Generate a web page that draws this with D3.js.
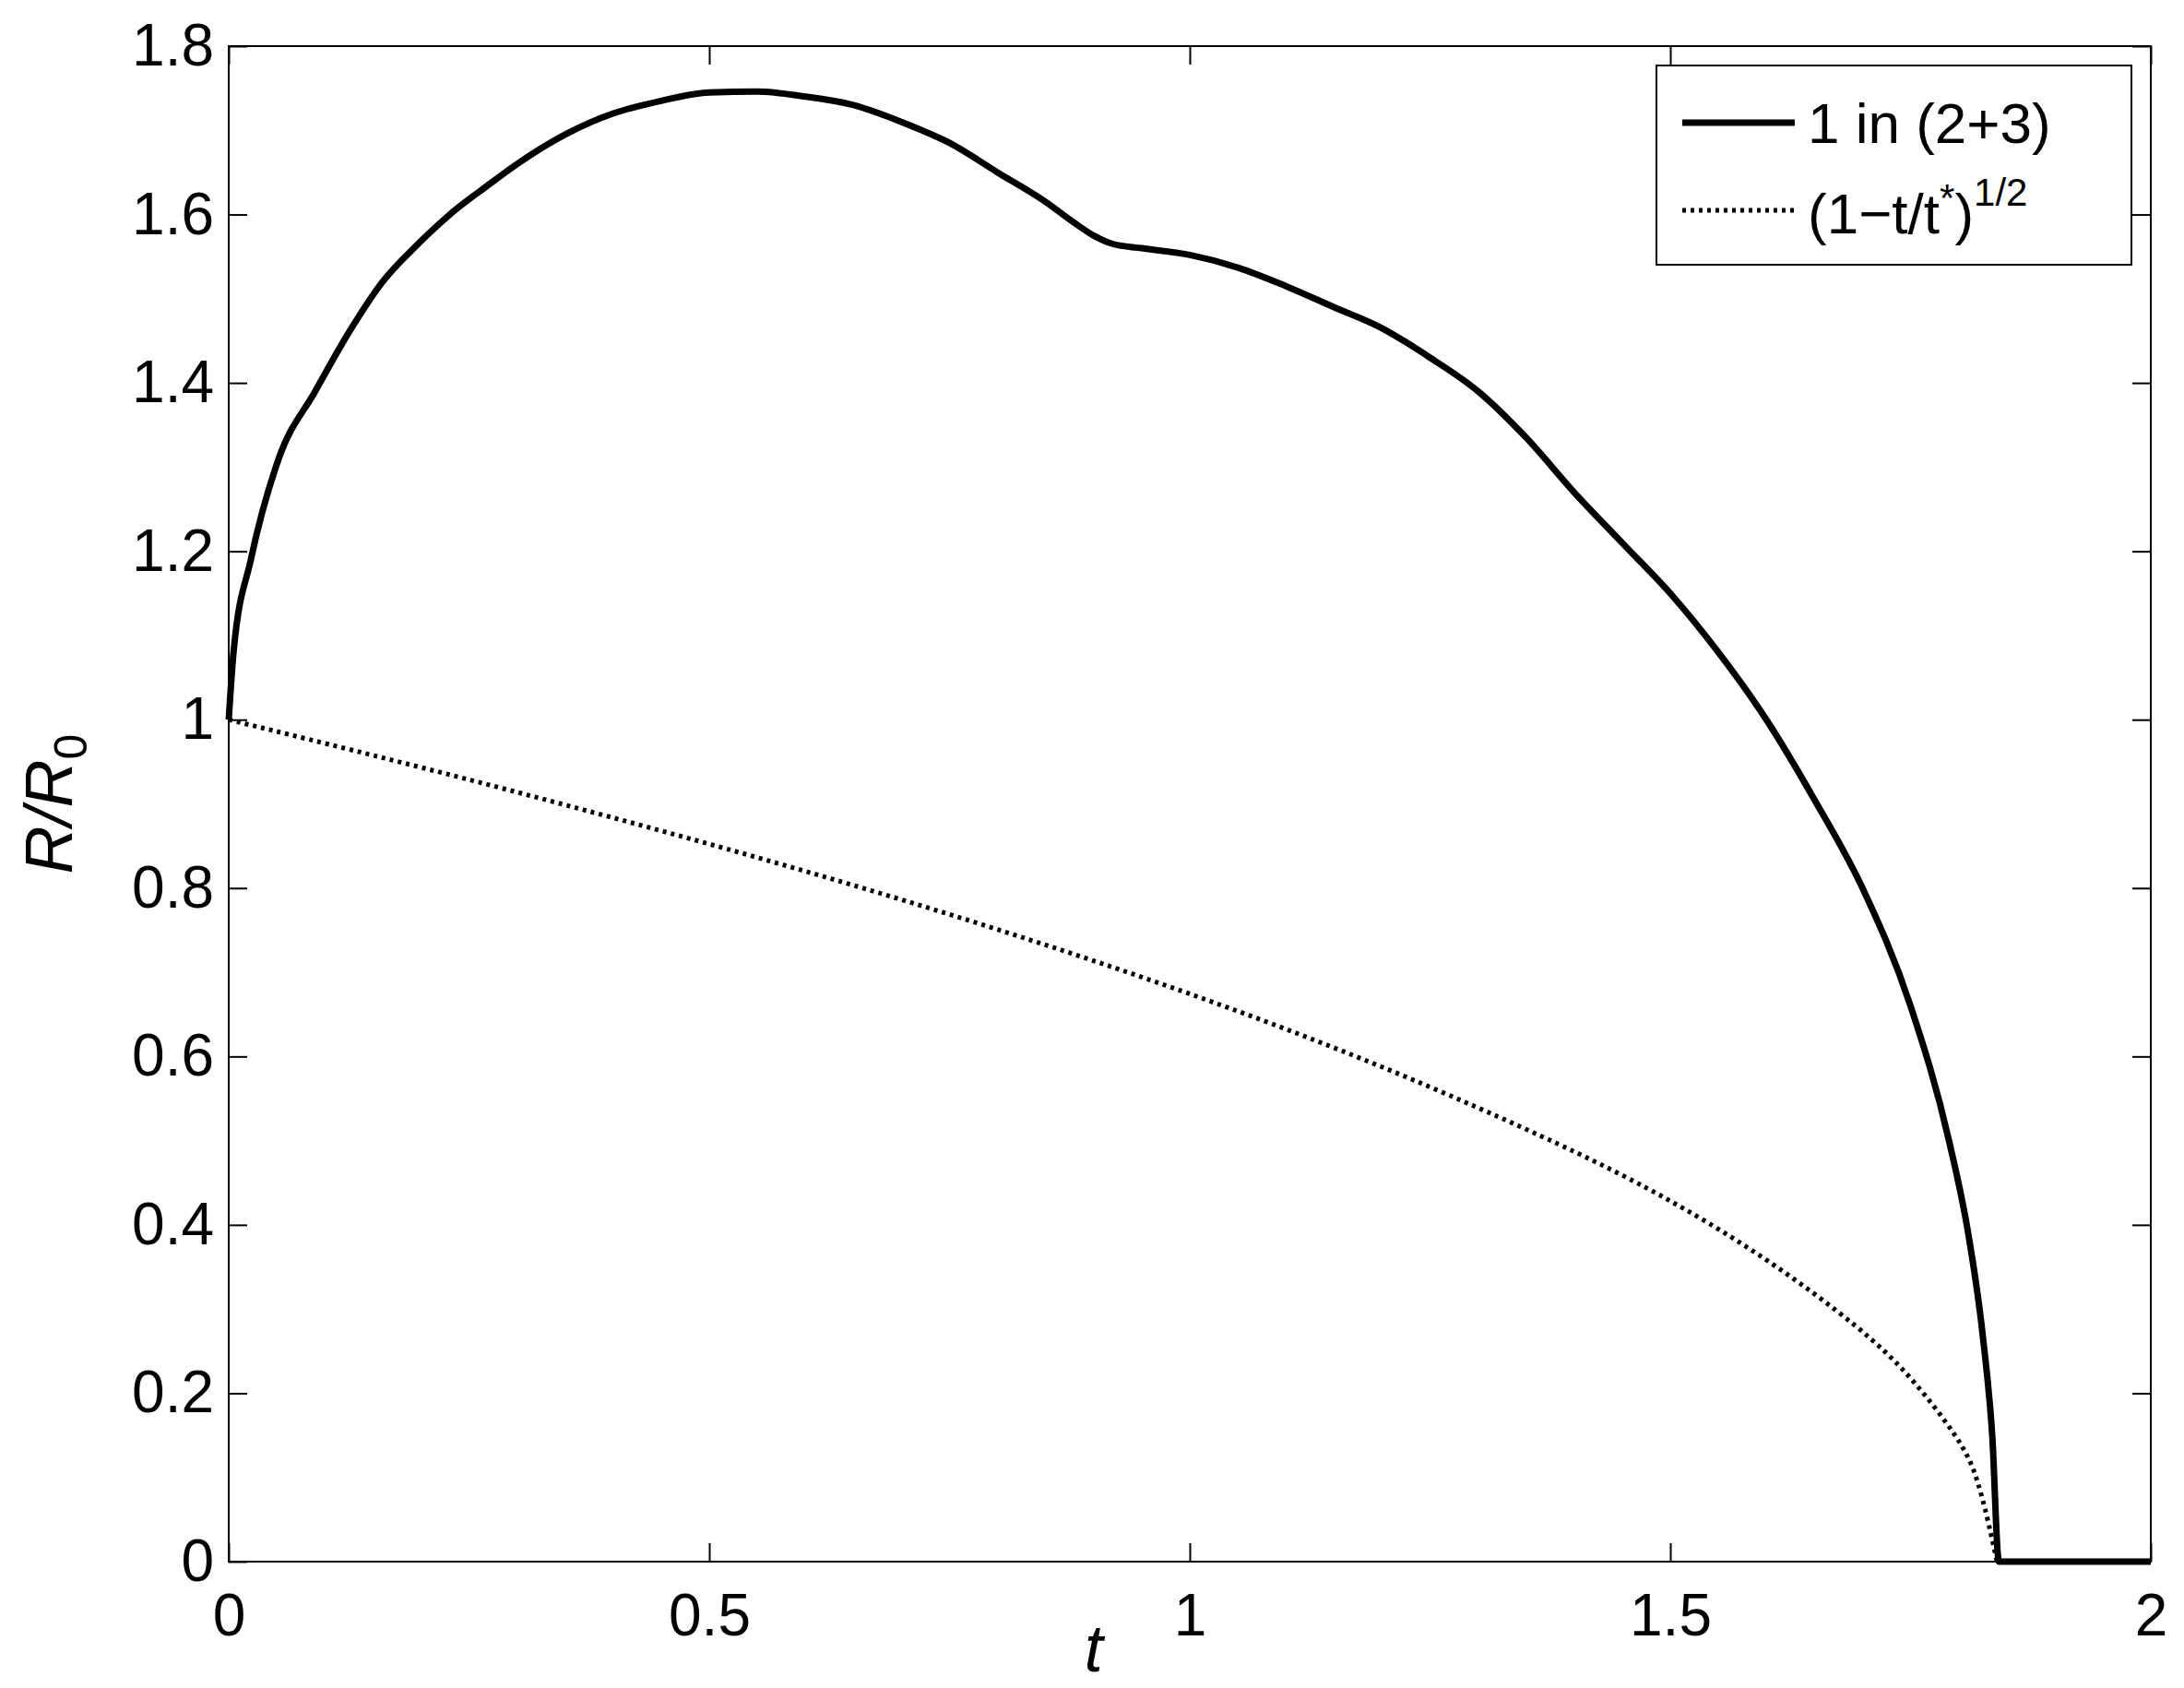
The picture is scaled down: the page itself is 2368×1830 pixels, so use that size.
<!DOCTYPE html>
<html><head><meta charset="utf-8">
<script src="https://cdn.jsdelivr.net/npm/d3@7"></script>
<style>body{margin:0;background:#fff}text{font-family:"Liberation Sans",Arial,sans-serif}</style>
</head><body><div id="chart"></div>
<script>
const w = 2368, h = 1830;
const m = {l: 248, r: 36, t: 50, b: 137};

// solid curve: 1 in (2+3)
const solidT = [0,0.005,0.023,0.052,0.09,0.125,0.16,0.197,0.23,0.27,0.3,0.35,0.4,0.45,0.5,0.55,0.6,0.65,0.7,0.75,0.8,0.85,0.88,0.9,0.92,0.95,1.0,1.05,1.1,1.15,1.2,1.25,1.3,1.35,1.4,1.45,1.5,1.55,1.6,1.65,1.7,1.75,1.79,1.81,1.825,1.835,1.842,2.0];
const solidR = [1,1.08,1.19,1.31,1.39,1.46,1.52,1.565,1.6,1.635,1.66,1.695,1.72,1.735,1.745,1.746,1.74,1.73,1.71,1.685,1.65,1.615,1.59,1.575,1.565,1.56,1.552,1.537,1.515,1.49,1.465,1.43,1.39,1.335,1.27,1.21,1.15,1.08,1.0,0.905,0.80,0.66,0.50,0.39,0.27,0.15,0,0];
// dotted curve: (1-t/t*)^(1/2)
const dotT = [0,0.2,0.4,0.6,0.8,1.0,1.2,1.4,1.5,1.6,1.7,1.75,1.8,1.82,1.84];
const dotR = [1,0.944,0.884,0.821,0.752,0.676,0.59,0.489,0.43,0.361,0.276,0.221,0.147,0.104,0];
const xTicks = [0,0.5,1,1.5,2];
const yTicks = [0,0.2,0.4,0.6,0.8,1,1.2,1.4,1.6,1.8];

const svg = d3.select("#chart").append("svg").attr("width", w).attr("height", h);
const x = d3.scaleLinear().domain([0,2]).range([m.l, w-m.r]);
const y = d3.scaleLinear().domain([0,1.8]).range([h-m.b, m.t]);

const fmt = d => String(d);
const ax = (g, axis) => {
  g.call(axis.tickSize(20).tickPadding(16).tickFormat(fmt));
  g.selectAll("text").attr("font-size", 64).attr("fill", "#000");
  g.selectAll("line").attr("stroke-width", 2);
  g.select(".domain").remove();
};
svg.append("g").attr("transform", `translate(0,${h-m.b})`).call(g => ax(g, d3.axisTop(x).tickValues(xTicks)))
  .selectAll("text").attr("dy", "1em").attr("y", 16);
svg.append("g").attr("transform", `translate(0,${m.t})`).call(g => ax(g, d3.axisBottom(x).tickValues(xTicks))).selectAll("text").remove();
svg.append("g").attr("transform", `translate(${m.l},0)`).call(g => ax(g, d3.axisRight(y).tickValues(yTicks)))
  .selectAll("text").attr("text-anchor", "end").attr("x", -16);
svg.append("g").attr("transform", `translate(${w-m.r},0)`).call(g => ax(g, d3.axisLeft(y).tickValues(yTicks))).selectAll("text").remove();
svg.append("rect").attr("x", m.l).attr("y", m.t).attr("width", w-m.l-m.r).attr("height", h-m.t-m.b)
  .attr("fill", "none").attr("stroke", "#000").attr("stroke-width", 2);

const dotLine = d3.line().x(d => x(d[0])).y(d => y(d[1])).curve(d3.curveBasis);
svg.append("path").datum(dotT.map((t,i)=>[t,dotR[i]])).attr("d", dotLine)
  .attr("fill","none").attr("stroke","#000").attr("stroke-width",5).attr("stroke-dasharray","4,5");
const solidLine = d3.line().x(d => x(d[0])).y(d => y(d[1])).curve(d3.curveMonotoneX);
svg.append("path").datum(solidT.map((t,i)=>[t,solidR[i]])).attr("d", solidLine)
  .attr("fill","none").attr("stroke","#000").attr("stroke-width",7);

// axis labels
svg.append("text").attr("x", x(0.9)).attr("y", 1812).attr("text-anchor","middle")
  .attr("font-family","DejaVu Serif").attr("font-style","italic").attr("font-size",72).text("t");
svg.append("text").attr("transform", `translate(78,${y(0.9)}) rotate(-90)`).attr("text-anchor","middle")
  .attr("font-family","DejaVu Serif").attr("font-style","italic").attr("font-size",72)
  .html('R/R<tspan font-style="normal" font-size="50" dy="16">0</tspan>');

// legend
const lg = svg.append("g").attr("transform","translate(1796,71)");
lg.append("rect").attr("width",515).attr("height",216).attr("fill","#fff").attr("stroke","#000").attr("stroke-width",2);
lg.append("line").attr("x1",28).attr("x2",150).attr("y1",62).attr("y2",62).attr("stroke","#000").attr("stroke-width",7);
lg.append("text").attr("x",164).attr("y",84).attr("font-size",62).text("1 in (2+3)");
lg.append("line").attr("x1",28).attr("x2",150).attr("y1",157).attr("y2",157).attr("stroke","#000").attr("stroke-width",5).attr("stroke-dasharray","4,5");
lg.append("text").attr("x",164).attr("y",182).attr("font-size",62)
  .html('(1\u2212t/t<tspan dy="-24" font-size="42">*</tspan><tspan dy="24">)</tspan><tspan dy="-30" font-size="42">1/2</tspan>');
</script></body></html>
